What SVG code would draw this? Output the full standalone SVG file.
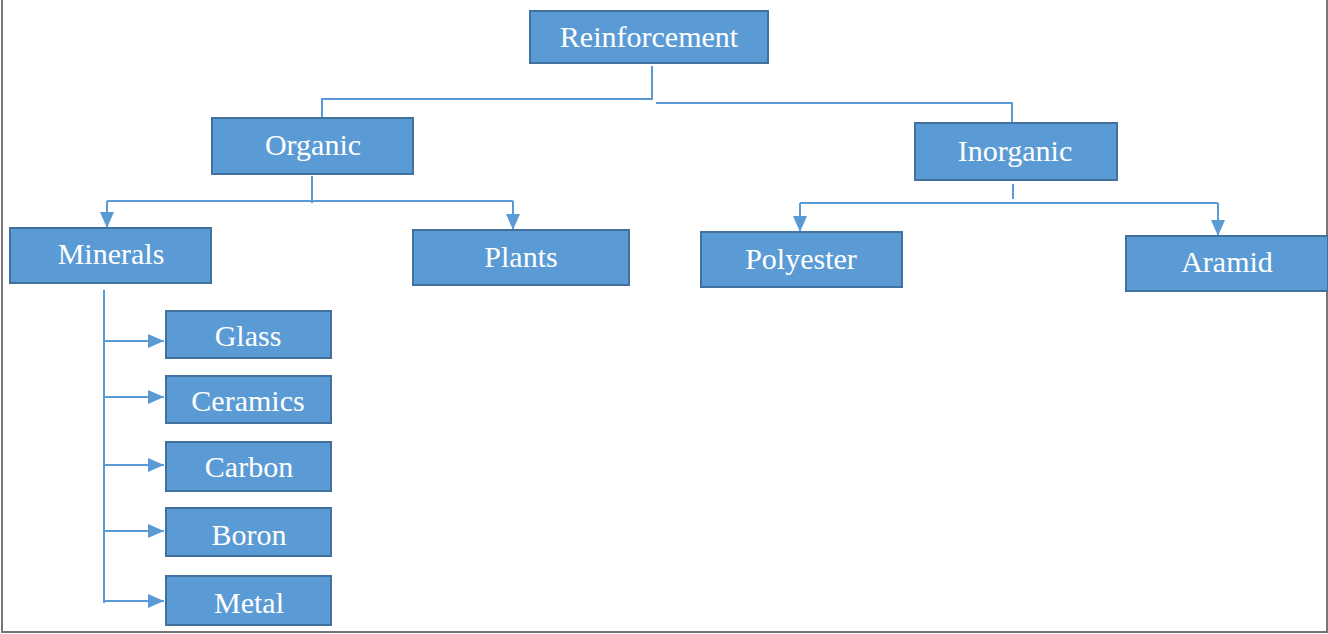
<svg xmlns="http://www.w3.org/2000/svg" width="1328" height="634" viewBox="0 0 1328 634">
<style>
.box{fill:#5b9bd5;stroke:#41719c;stroke-width:2}
.lbl{fill:#ffffff;font-family:"Liberation Serif","Times New Roman",serif;font-size:30px;text-anchor:middle}
.con{fill:none;stroke:#5b9bd5;stroke-width:2}
</style>
<defs>
<marker id="arr" viewBox="0 0 10 10" refX="10" refY="5" markerWidth="8" markerHeight="7" orient="auto" markerUnits="strokeWidth" preserveAspectRatio="none">
<path d="M0,0 L10,5 L0,10 z" fill="#5b9bd5"/>
</marker>
</defs>
<rect x="0" y="0" width="1328" height="634" fill="#ffffff"/>
<path d="M2,0 V632 H1327 V0" fill="none" stroke="#777777" stroke-width="2"/>
<g id="connectors">
<path class="con" d="M652,66 V99 H322 V118"/>
<path class="con" d="M656,103 H1012 V123"/>
<path class="con" d="M312,176 V203"/>
<path class="con" d="M107,201 H513"/>
<path class="con" d="M107,201 V228" marker-end="url(#arr)"/>
<path class="con" d="M513,201 V230" marker-end="url(#arr)"/>
<path class="con" d="M1013,184 V199"/>
<path class="con" d="M800,203 H1218"/>
<path class="con" d="M800,203 V232" marker-end="url(#arr)"/>
<path class="con" d="M1218,203 V236" marker-end="url(#arr)"/>
<path class="con" d="M104,290 V603"/>
<path class="con" d="M104,341 H164" marker-end="url(#arr)"/>
<path class="con" d="M104,397 H164" marker-end="url(#arr)"/>
<path class="con" d="M104,465 H164" marker-end="url(#arr)"/>
<path class="con" d="M104,531 H164" marker-end="url(#arr)"/>
<path class="con" d="M104,601 H164" marker-end="url(#arr)"/>
</g>
<g id="reinforcement"><rect class="box" x="530" y="11" width="238" height="52"/><text class="lbl" x="649" y="47">Reinforcement</text></g>
<g id="organic"><rect class="box" x="212" y="118" width="201" height="56"/><text class="lbl" x="313" y="155">Organic</text></g>
<g id="inorganic"><rect class="box" x="915" y="123" width="202" height="57"/><text class="lbl" x="1015" y="161">Inorganic</text></g>
<g id="minerals"><rect class="box" x="10" y="228" width="201" height="55"/><text class="lbl" x="111" y="264">Minerals</text></g>
<g id="plants"><rect class="box" x="413" y="230" width="216" height="55"/><text class="lbl" x="521" y="267">Plants</text></g>
<g id="polyester"><rect class="box" x="701" y="232" width="201" height="55"/><text class="lbl" x="801" y="269">Polyester</text></g>
<g id="aramid"><rect class="box" x="1126" y="236" width="202" height="55"/><text class="lbl" x="1227" y="272">Aramid</text></g>
<g id="glass"><rect class="box" x="166" y="311" width="165" height="47"/><text class="lbl" x="248" y="346">Glass</text></g>
<g id="ceramics"><rect class="box" x="166" y="376" width="165" height="47"/><text class="lbl" x="248" y="411">Ceramics</text></g>
<g id="carbon"><rect class="box" x="166" y="442" width="165" height="49"/><text class="lbl" x="249" y="477">Carbon</text></g>
<g id="boron"><rect class="box" x="166" y="508" width="165" height="48"/><text class="lbl" x="249" y="545">Boron</text></g>
<g id="metal"><rect class="box" x="166" y="576" width="165" height="49"/><text class="lbl" x="249" y="613">Metal</text></g>
</svg>
